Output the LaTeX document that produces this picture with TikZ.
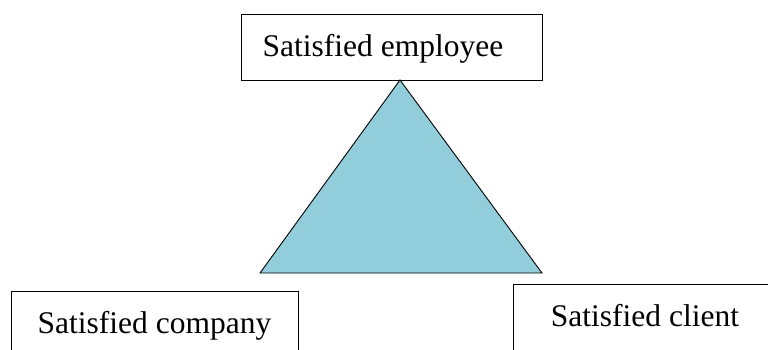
\documentclass[tikz,border=0pt]{standalone}
\usepackage{fontspec}
\setmainfont{Liberation Serif}
\definecolor{aqua}{HTML}{92CDDC}
\begin{document}
\begin{tikzpicture}[x=1pt,y=-1pt,
  box/.style={draw=black,line width=0.9pt,fill=white,inner sep=0pt},
  lbl/.style={anchor=base,inner sep=0pt,font=\fontsize{31.5}{36}\selectfont}]
\useasboundingbox (0,0) rectangle (768,349);
\clip (0,0) rectangle (768,349);
% top box
\node[box,minimum width=301pt,minimum height=66pt] (emp) at (391.5,47) {};
\node[lbl] (empt) at (383,56) {Satisfied employee};
% triangle
\coordinate (apex) at (400,80);
\coordinate (bl) at (260,273);
\coordinate (br) at (542,273);
\draw[fill=aqua,line width=0.9pt,line join=miter] (apex) -- (bl) -- (br) -- cycle;
% bottom left box
\node[box,minimum width=287pt,minimum height=80pt] (comp) at (154.5,331) {};
\node[lbl] (compt) at (154.5,333) {Satisfied company};
% bottom right box
\node[box,minimum width=277pt,minimum height=86pt] (cli) at (651.5,327) {};
\node[lbl] (clit) at (645,326) {Satisfied client};
\end{tikzpicture}
\end{document}
